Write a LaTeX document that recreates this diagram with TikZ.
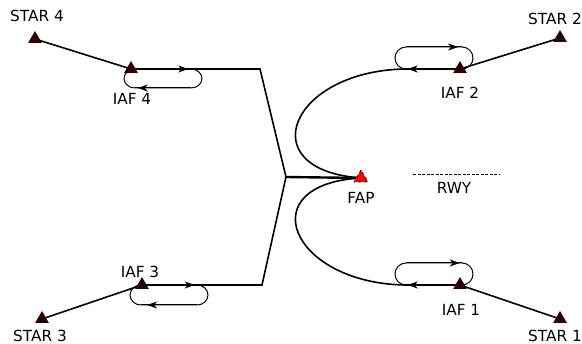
\documentclass[tikz,border=0pt]{standalone}
\usepackage{fontspec}
\setmainfont{DejaVu Sans}
\usetikzlibrary{shapes.geometric,arrows.meta,decorations.markings,backgrounds}
\definecolor{fixcol}{RGB}{45,0,0}

\tikzset{
fix/.style={regular polygon,regular polygon sides=3,minimum size=16pt,inner sep=0pt,fill=fixcol},
fixlbl/.style={font=\fontsize{15.3}{17}\selectfont,inner sep=0pt},
route/.style={line width=1.6pt},
hold/.style={line width=1pt},
midarrow/.style={postaction={decorate},decoration={markings,
  mark=at position #1 with {\arrow{Stealth[length=10pt,width=7pt,inset=3pt]}}}},
}

\begin{document}
\begin{tikzpicture}[x=1pt,y=-1pt]
\clip (0,0) rectangle (582,344);
%% fixes;
\node[fix] (star4) at (35,39) {};
\node[fix] (iaf4) at (131,69) {};
\node[fix] (star3) at (42,319) {};
\node[fix] (iaf3) at (142,285) {};
\node[fix] (star2) at (560,38) {};
\node[fix] (iaf2) at (460,69) {};
\node[fix] (star1) at (560,319) {};
\node[fix] (iaf1) at (460,285) {};
\node[fix,fill=red,draw=fixcol,dashed,line width=0.8pt] (fap) at (361,178) {};
%% labels;
\node[fixlbl] (star4lbl) at (37,16) {STAR 4};
\node[fixlbl] (iaf4lbl) at (132,99) {IAF 4};
\node[fixlbl] (star3lbl) at (40,336) {STAR 3};
\node[fixlbl] (iaf3lbl) at (140,272) {IAF 3};
\node[fixlbl] (star2lbl) at (555,19) {STAR 2};
\node[fixlbl] (iaf2lbl) at (460,93) {IAF 2};
\node[fixlbl] (star1lbl) at (555,336) {STAR 1};
\node[fixlbl] (iaf1lbl) at (461,310) {IAF 1};
\node[fixlbl] (faplbl) at (361,198) {FAP};
\node[fixlbl] (rwylbl) at (454,188) {RWY};
%% turn points;
\coordinate (turn4) at (260,69);
\coordinate (fork) at (286,177);
\coordinate (turn3) at (262,285);
\coordinate (lead2) at (405,69);
\coordinate (lead1) at (405,285);
\coordinate (rwya) at (413,175);
\coordinate (rwyb) at (500,175);
\begin{scope}[on background layer]
%% routes;
\draw[route] (star4.center) -- (iaf4.center);
\draw[route] (star3.center) -- (iaf3.center);
\draw[route] (star2.center) -- (iaf2.center);
\draw[route] (star1.center) -- (iaf1.center);
\draw[route] (iaf4.center) -- (turn4) -- (fork) -- (turn3) -- (iaf3.center);
\draw[route,line width=2.4pt] (fork) -- (fap.center);
\draw[route] (iaf2.center) -- (lead2) .. controls (290,71) and (250,170) .. (fap.center);
\draw[route] (iaf1.center) -- (lead1) .. controls (290,283) and (250,184) .. (fap.center);
%% runway;
\draw[dash pattern=on 3pt off 1.5pt,line width=1pt] (rwya) -- (rwyb);
%% holding iaf 4;
\draw[hold] (135,69) -- (191,69) arc[start angle=-90,end angle=90,x radius=11,y radius=9.5]
  -- (135,88) arc[start angle=90,end angle=270,x radius=11,y radius=9.5];
\draw[hold,midarrow=0.95] (135,69) -- (191,69);
\draw[hold,midarrow=0.95] (191,88) -- (135,88);
%% holding iaf 3;
\draw[hold] (141,285) -- (197,285) arc[start angle=-90,end angle=90,x radius=11,y radius=10]
  -- (141,305) arc[start angle=90,end angle=270,x radius=11,y radius=10];
\draw[hold,midarrow=0.96] (141,285) -- (197,285);
\draw[hold,midarrow=0.89] (197,305) -- (141,305);
%% holding iaf 2;
\draw[hold] (406,47) -- (462,47) arc[start angle=-90,end angle=90,x radius=11,y radius=11]
  -- (406,69) arc[start angle=90,end angle=270,x radius=11,y radius=11];
\draw[hold,midarrow=0.93] (406,47) -- (462,47);
\draw[hold,midarrow=0.97] (462,69) -- (406,69);
%% holding iaf 1;
\draw[hold] (406,263) -- (462,263) arc[start angle=-90,end angle=90,x radius=11,y radius=11]
  -- (406,285) arc[start angle=90,end angle=270,x radius=11,y radius=11];
\draw[hold,midarrow=0.96] (406,263) -- (462,263);
\draw[hold,midarrow=0.97] (462,285) -- (406,285);
\end{scope}
\end{tikzpicture}
\end{document}
